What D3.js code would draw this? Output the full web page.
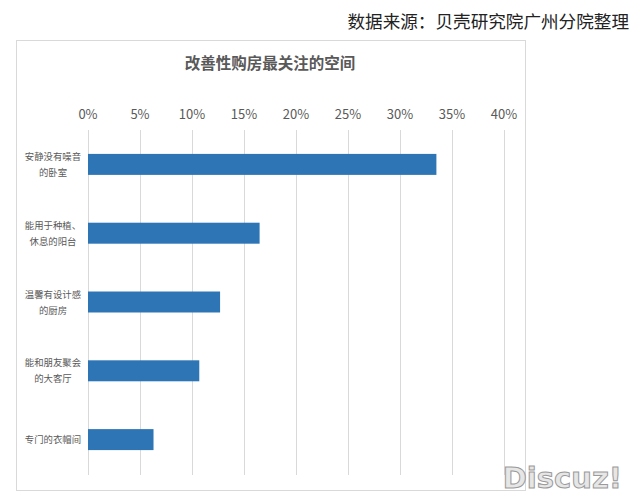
<!DOCTYPE html>
<html><head><meta charset="utf-8">
<script src="https://cdn.jsdelivr.net/npm/d3@7"></script>
<style>body{margin:0;background:#fff}svg{display:block}</style>
</head><body>
<svg id="c" width="640" height="501"></svg>
<script>
const categories = [["安静没有噪音","的卧室"],["能用于种植、","休息的阳台"],["温馨有设计感","的厨房"],["能和朋友聚会","的大客厅"],["专门的衣帽间"]];
const values = [33.5, 16.5, 12.7, 10.7, 6.3];
const tickValues = [0,5,10,15,20,25,30,35,40];
const title = "改善性购房最关注的空间";
const source = "数据来源：贝壳研究院广州分院整理";

const svg = d3.select("#c");
const font = "'Noto Sans CJK SC', 'Noto Sans', sans-serif";
svg.append("text").attr("x",629).attr("y",28).attr("text-anchor","end")
  .attr("font-family",font).attr("font-size",17.6).attr("fill","#222").text(source);
svg.append("rect").attr("x",16.5).attr("y",40.5).attr("width",509).attr("height",450)
  .attr("fill","#fff").attr("stroke","#d9d9d9");
svg.append("text").attr("x",270).attr("y",69).attr("text-anchor","middle")
  .attr("font-family",font).attr("font-size",15.5).attr("font-weight","bold").attr("fill","#595959").text(title);

const x = d3.scaleLinear().domain([0,40]).range([88,504]);
const y = d3.scaleBand().domain(d3.range(values.length)).range([130,474]).paddingInner(0.695).paddingOuter(0.3475);

const g = svg.append("g");
g.selectAll("line.grid").data(tickValues).join("line")
  .attr("x1",d=>x(d)+0.5).attr("x2",d=>x(d)+0.5).attr("y1",130).attr("y2",475)
  .attr("stroke","#d9d9d9").attr("stroke-width",1);
g.selectAll("text.tick").data(tickValues).join("text")
  .attr("x",d=>x(d)).attr("y",119).attr("text-anchor","middle")
  .attr("font-family",font).attr("font-size",13).attr("fill","#595959").text(d=>d+"%");
g.selectAll("rect.bar").data(values).join("rect")
  .attr("x",x(0)).attr("y",(d,i)=>y(i)).attr("width",d=>x(d)-x(0)).attr("height",y.bandwidth())
  .attr("fill","#2E75B6");
const lab = g.selectAll("text.cat").data(categories).join("text")
  .attr("text-anchor","middle").attr("font-family",font).attr("font-size",9.4).attr("fill","#595959");
lab.each(function(d,i){
  const c = y(i)+y.bandwidth()/2;
  const n = d.length;
  d3.select(this).selectAll("tspan").data(d).join("tspan")
    .attr("x",53).attr("y",(t,j)=>c+3.5+(j-(n-1)/2)*16).text(t=>t);
});
svg.append("text").attr("x",622).attr("y",488).attr("text-anchor","end")
  .attr("font-family","'DejaVu Sans', sans-serif").attr("font-size",29).attr("font-weight","bold")
  .attr("fill","#e6e6e6").attr("stroke","#9a9a9a").attr("stroke-width",1).text("Discuz!");
</script>
</body></html>
